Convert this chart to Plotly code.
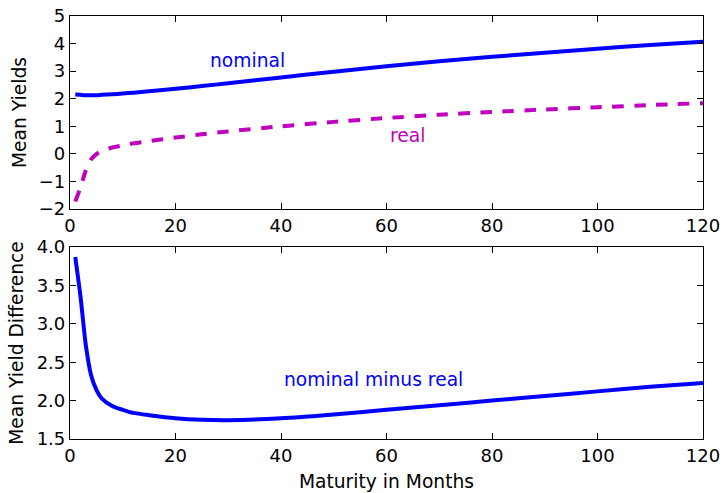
import plotly.graph_objects as go
from plotly.subplots import make_subplots

maturity = [1, 2, 3, 4, 5, 6, 8, 10, 12, 15, 20, 25, 30, 40, 50, 60, 70, 80, 90, 100, 110, 120]
nominal = [2.15, 2.14, 2.13, 2.13, 2.13, 2.14, 2.16, 2.19, 2.22, 2.27, 2.36, 2.46, 2.56, 2.77, 2.98, 3.18, 3.36, 3.52, 3.67, 3.81, 3.95, 4.07]
real = [-1.73, -1.21, -0.59, -0.20, -0.01, 0.11, 0.23, 0.31, 0.38, 0.46, 0.59, 0.71, 0.815, 1.00, 1.16, 1.30, 1.42, 1.52, 1.61, 1.69, 1.77, 1.84]
difference = [3.87, 3.35, 2.72, 2.33, 2.14, 2.03, 1.93, 1.88, 1.84, 1.81, 1.77, 1.75, 1.745, 1.77, 1.82, 1.88, 1.94, 2.00, 2.06, 2.12, 2.18, 2.23]

x_ticks = [0, 20, 40, 60, 80, 100, 120]
top_y_ticks = [-2, -1, 0, 1, 2, 3, 4, 5]
bottom_y_ticks = [1.5, 2.0, 2.5, 3.0, 3.5, 4.0]

BLUE = "#0000ff"
MAGENTA = "#bf00bf"
FONT = "DejaVu Sans"
TICK_SIZE = 18
LABEL_SIZE = 18.7
LW = 4

fig = make_subplots(rows=2, cols=1, vertical_spacing=0.09)

fig.add_trace(go.Scatter(x=maturity, y=nominal, mode="lines", line=dict(color=BLUE, width=LW, shape="spline", smoothing=0.6), showlegend=False), row=1, col=1)
fig.add_trace(go.Scatter(x=maturity, y=real, mode="lines", line=dict(color=MAGENTA, width=LW, dash="11.5px,10.5px", shape="spline", smoothing=0.6), showlegend=False), row=1, col=1)
fig.add_trace(go.Scatter(x=maturity, y=difference, mode="lines", line=dict(color=BLUE, width=LW, shape="spline", smoothing=0.6), showlegend=False), row=2, col=1)

axis_common = dict(
    showline=True, linecolor="black", linewidth=1.2, mirror="allticks",
    ticks="inside", ticklen=6, tickwidth=1, tickcolor="black",
    showgrid=False, zeroline=False, automargin=False,
    tickfont=dict(family=FONT, size=TICK_SIZE, color="black"),
)

fig.update_xaxes(range=[0, 120], tickvals=x_ticks, **axis_common)
fig.update_yaxes(**axis_common)

fig.update_layout(
    xaxis=dict(domain=[0, 1]),
    yaxis=dict(domain=[0.5437, 1.0], range=[-2, 5], tickvals=top_y_ticks,
               title=dict(text="Mean Yields", font=dict(family=FONT, size=LABEL_SIZE, color="black"), standoff=7)),
    xaxis2=dict(domain=[0, 1],
                title=dict(text="Maturity in Months", font=dict(family=FONT, size=LABEL_SIZE, color="black"), standoff=10)),
    yaxis2=dict(domain=[0.0, 0.4539], range=[1.5, 4.0], tickvals=bottom_y_ticks, tickformat=".1f",
                title=dict(text="Mean Yield Difference", font=dict(family=FONT, size=LABEL_SIZE, color="black"), standoff=8)),
    width=725, height=493,
    margin=dict(l=70, r=22, t=16, b=54),
    paper_bgcolor="white", plot_bgcolor="white",
    font=dict(family=FONT, size=TICK_SIZE, color="black"),
)

fig.add_annotation(x=26.2, y=3.38, xref="x", yref="y", text="nominal", showarrow=False,
                   xanchor="left", yanchor="middle", font=dict(family=FONT, size=LABEL_SIZE, color=BLUE))
fig.add_annotation(x=60.2, y=0.68, xref="x", yref="y", text="real", showarrow=False,
                   xanchor="left", yanchor="middle", font=dict(family=FONT, size=LABEL_SIZE, color=MAGENTA))
fig.add_annotation(x=40.2, y=2.28, xref="x2", yref="y2", text="nominal minus real", showarrow=False,
                   xanchor="left", yanchor="middle", font=dict(family=FONT, size=LABEL_SIZE, color=BLUE))

fig.write_html("out.html")
